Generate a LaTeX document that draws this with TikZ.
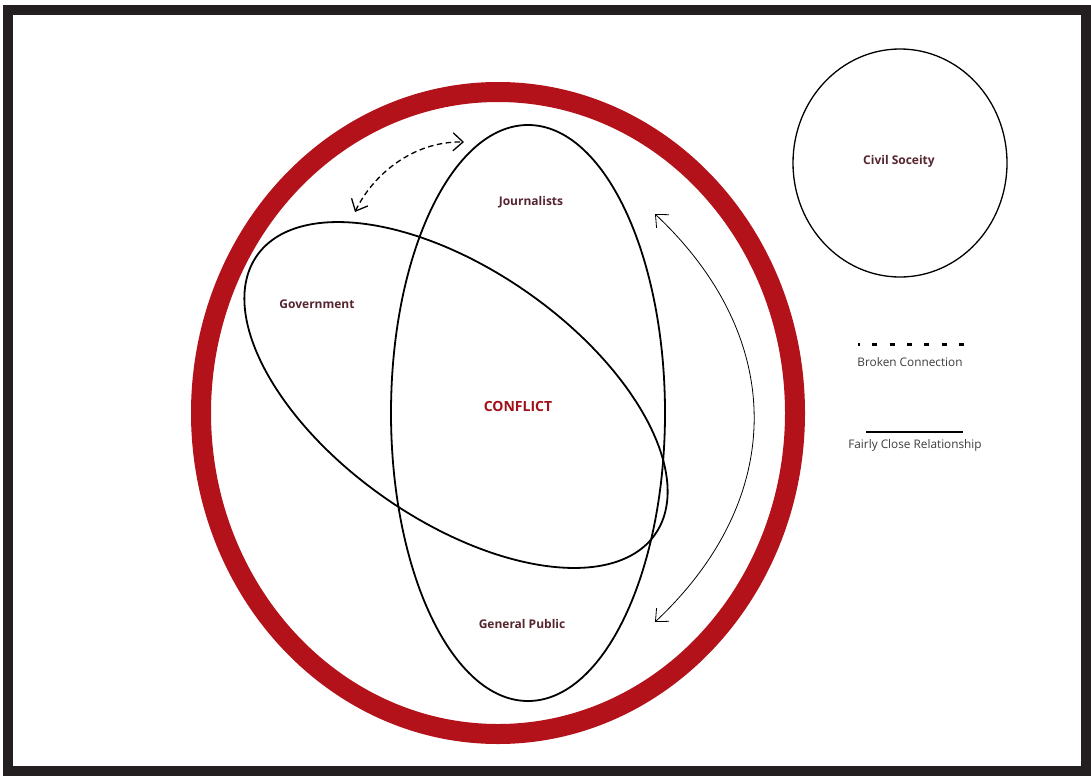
\documentclass[tikz,border=0pt]{standalone}
\usepackage{fontspec}
\setmainfont{Open Sans}
\usepackage{xcolor}
\usepackage{tikz}
\usetikzlibrary{positioning}
\usetikzlibrary{calc}
\usetikzlibrary{arrows.meta}

\definecolor{framegray}{HTML}{231F20}
\definecolor{conflictred}{HTML}{B3121B}
\definecolor{labelbrown}{HTML}{552530}
\definecolor{legendgray}{HTML}{3C3C3C}

\tikzset{
  actor/.style={font=\fontsize{12}{14}\selectfont\bfseries, text=labelbrown},
  legendtext/.style={font=\fontsize{11.8}{13}\selectfont, text=legendgray},
  barb/.style={{Straight Barb[length=10pt,width=18pt]}-{Straight Barb[length=10pt,width=18pt]}}
}

\begin{document}
\begin{tikzpicture}[x=1pt,y=-1pt]
\useasboundingbox (0,0) rectangle (1091,776);
\fill[white] (0,0) rectangle (1091,776);
\draw[line width=10pt,framegray] (8,10) rectangle (1086,771);
% conflict zone
\draw[line width=20pt,conflictred] (498,413) ellipse [x radius=297, y radius=321];
% actors
\draw[line width=1.8pt] (528,413) ellipse [x radius=137, y radius=288];
\draw[line width=1.8pt,rotate around={-35:(456,395)}] (456,395) ellipse [x radius=243, y radius=125];
\draw[line width=1.3pt] (900,163) ellipse [x radius=107, y radius=114];
\node[actor] (J) at (531,202) {Journalists};
\node[actor] (G) at (317,304) {Government};
\node[actor] (P) at (522,624) {General Public};
\node[actor] (C) at (899,161) {Civil Soceity};
\node[font=\fontsize{14}{16}\selectfont\bfseries, text=conflictred!90!black] (X) at (518,406) {CONFLICT};
% connections
\coordinate (g1) at (355,212);
\coordinate (j1) at (464,142);
\coordinate (j2) at (655,214);
\coordinate (p1) at (655,622);
\draw[line width=1.3pt,dash pattern=on 5.5pt off 3.5pt,barb] (g1) .. controls (372,176) and (412,141) .. (j1);
\draw[line width=0.8pt,barb] (j2) .. controls (787,338) and (787,498) .. (p1);
% legend
\coordinate (l1) at (858,344);
\coordinate (l2) at (964,344);
\draw[line width=3pt,dash pattern=on 5pt off 12.3pt,dash phase=3pt] (l1) -- (l2);
\node[legendtext] (LB) at (910,362) {Broken Connection};
\coordinate (l3) at (866,432);
\coordinate (l4) at (963,432);
\draw[line width=2.5pt] (l3) -- (l4);
\node[legendtext] (LF) at (915,445) {Fairly Close Relationship};
\end{tikzpicture}
\end{document}
